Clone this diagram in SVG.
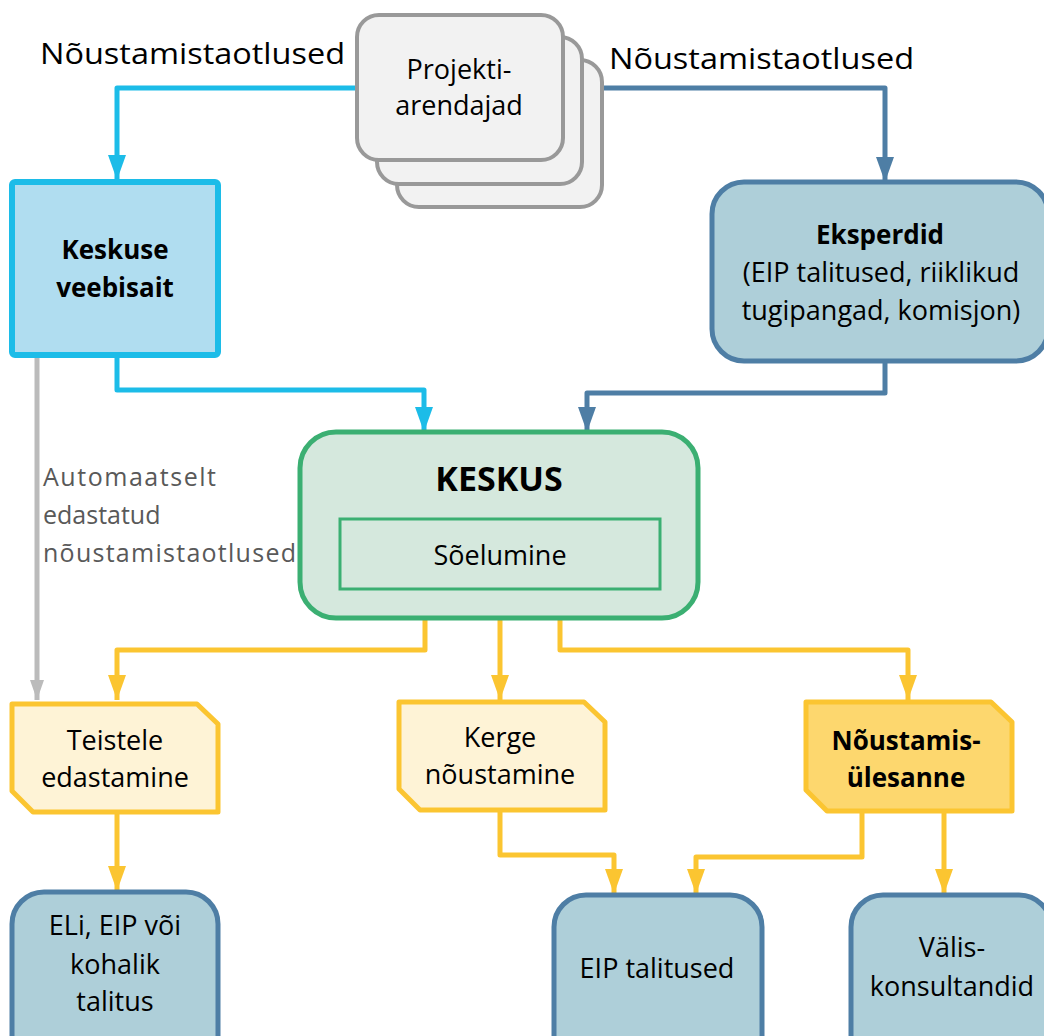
<svg xmlns="http://www.w3.org/2000/svg" width="1044" height="1036" viewBox="0 0 1044 1036">
<style>
text{font-family:"Open Sans","Noto Sans","Liberation Sans",sans-serif;fill:#000;text-anchor:middle}
.t{font-size:27px}
.b{font-size:26px;font-weight:bold}
.lbl{font-size:30px;text-anchor:start}
.gray{font-size:25px;fill:#595959;text-anchor:start}
.stack{fill:#F2F2F2;stroke:#999;stroke-width:4}
.blue{fill:#AECFD9;stroke:#4E7EA5;stroke-width:5}
.yel{fill:#FEF3D6;stroke:#FBC531;stroke-width:5;stroke-linejoin:round}
.yel2{fill:#FDD76E;stroke:#FBC531;stroke-width:5;stroke-linejoin:round}
.c{fill:none;stroke-width:5;stroke-linejoin:round}
</style>
<defs>
<marker id="aCyan" markerUnits="userSpaceOnUse" markerWidth="18" markerHeight="25" viewBox="0 0 18 25" refX="9" refY="25"><path d="M0 0 L18 0 L9 25 Z" fill="#1CBCE8"/></marker>
<marker id="aDark" markerUnits="userSpaceOnUse" markerWidth="18" markerHeight="25" viewBox="0 0 18 25" refX="9" refY="25"><path d="M0 0 L18 0 L9 25 Z" fill="#4E7EA5"/></marker>
<marker id="aGray" markerUnits="userSpaceOnUse" markerWidth="14" markerHeight="20" viewBox="0 0 14 20" refX="7" refY="20"><path d="M0 0 L14 0 L7 20 Z" fill="#BBBBBB"/></marker>
<marker id="aYel" markerUnits="userSpaceOnUse" markerWidth="18" markerHeight="25" viewBox="0 0 18 25" refX="9" refY="25"><path d="M0 0 L18 0 L9 25 Z" fill="#FBC531"/></marker>
</defs>

<g id="connectors">
<path class="c" stroke="#1CBCE8" d="M357 88 H117 V180" marker-end="url(#aCyan)"/>
<path class="c" stroke="#4E7EA5" d="M565 88 H885 V182" marker-end="url(#aDark)"/>
<path class="c" stroke="#1CBCE8" d="M117 355 V390 H424 V432" marker-end="url(#aCyan)"/>
<path class="c" stroke="#4E7EA5" d="M885 362 V393 H587 V432" marker-end="url(#aDark)"/>
<path class="c" stroke="#BBBBBB" stroke-width="4" d="M37 357 V700" marker-end="url(#aGray)"/>
<path class="c" stroke="#FBC531" d="M425 589 V650 H117 V700" marker-end="url(#aYel)"/>
<path class="c" stroke="#FBC531" d="M500 589 V700" marker-end="url(#aYel)"/>
<path class="c" stroke="#FBC531" d="M560 589 V650 H908 V700" marker-end="url(#aYel)"/>
<path class="c" stroke="#FBC531" d="M117 813 V891" marker-end="url(#aYel)"/>
<path class="c" stroke="#FBC531" d="M500 810 V855 H614 V894" marker-end="url(#aYel)"/>
<path class="c" stroke="#FBC531" d="M862 812 V857 H696 V894" marker-end="url(#aYel)"/>
<path class="c" stroke="#FBC531" d="M944 812 V894" marker-end="url(#aYel)"/>
<text class="lbl" x="40" y="64" textLength="305" lengthAdjust="spacingAndGlyphs">Nõustamistaotlused</text>
<text class="lbl" x="609" y="69" textLength="305" lengthAdjust="spacingAndGlyphs">Nõustamistaotlused</text>
<text class="gray" x="43" y="486" textLength="173">Automaatselt</text>
<text class="gray" x="43" y="524">edastatud</text>
<text class="gray" x="43" y="562" textLength="253">nõustamistaotlused</text>
</g>

<g id="projektiarendajad">
<rect class="stack" x="397" y="60" width="205" height="147" rx="22"/>
<rect class="stack" x="377" y="37" width="205" height="147" rx="22"/>
<rect class="stack" x="357" y="15" width="206" height="145" rx="22"/>
<text class="t" x="459" y="79">Projekti-</text>
<text class="t" x="459" y="115">arendajad</text>
</g>

<g id="keskuse-veebisait">
<rect x="12" y="182" width="206" height="173" rx="3" fill="#B0DDF0" stroke="#1CBCE8" stroke-width="6"/>
<text class="b" x="115" y="259">Keskuse</text>
<text class="b" x="115" y="297">veebisait</text>
</g>

<g id="eksperdid">
<rect class="blue" x="712" y="182" width="336" height="179" rx="32"/>
<text class="b" x="880" y="244">Eksperdid</text>
<text class="t" x="881" y="282">(EIP talitused, riiklikud</text>
<text class="t" x="881" y="320">tugipangad, komisjon)</text>
</g>

<g id="keskus">
<rect x="300" y="432" width="398" height="186" rx="36" fill="#D5E8DD" stroke="#3BAF72" stroke-width="5"/>
<text x="499" y="491" style="font-size:34px;font-weight:bold">KESKUS</text>
<g id="soelumine">
<rect x="340" y="519" width="320" height="70" fill="#D5E8DD" stroke="#3BAF72" stroke-width="3"/>
<text class="t" x="500" y="565">Sõelumine</text>
</g>
</g>

<g id="teistele-edastamine">
<path class="yel" d="M12 704 H197 L218 724 V812 H33 L12 791 Z"/>
<text class="t" x="115" y="750">Teistele</text>
<text class="t" x="115" y="787">edastamine</text>
</g>

<g id="kerge-noustamine">
<path class="yel" d="M399 702 H584 L605 722 V810 H420 L399 789 Z"/>
<text class="t" x="500" y="747">Kerge</text>
<text class="t" x="500" y="784">nõustamine</text>
</g>

<g id="noustamisulesanne">
<path class="yel2" d="M806 702 H991 L1012 722 V811 H827 L806 790 Z"/>
<text class="b" x="906" y="750">Nõustamis-</text>
<text class="b" x="906" y="787">ülesanne</text>
</g>

<g id="eli-eip">
<rect class="blue" x="12" y="892" width="206" height="180" rx="32"/>
<text class="t" x="115" y="935">ELi, EIP või</text>
<text class="t" x="115" y="974">kohalik</text>
<text class="t" x="115" y="1011">talitus</text>
</g>

<g id="eip-talitused">
<rect class="blue" x="554" y="895" width="208" height="180" rx="32"/>
<text class="t" x="657" y="978">EIP talitused</text>
</g>

<g id="valiskonsultandid">
<rect class="blue" x="851" y="895" width="200" height="180" rx="32"/>
<text class="t" x="952" y="957">Välis-</text>
<text class="t" x="952" y="996">konsultandid</text>
</g>
</svg>
